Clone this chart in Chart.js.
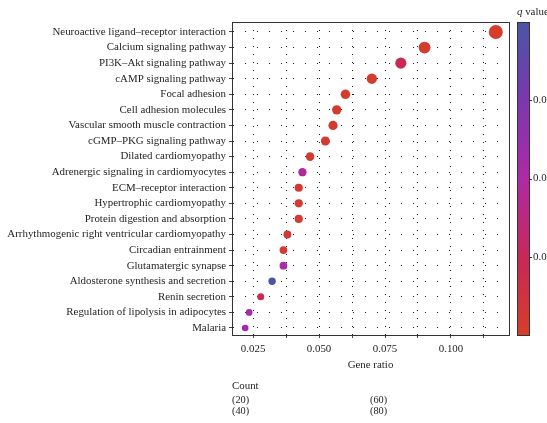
<!DOCTYPE html>
<html>
<head>
<meta charset="utf-8">
<script src="https://cdn.jsdelivr.net/npm/chart.js@4/dist/chart.umd.min.js"></script>
<style>
html,body{margin:0;padding:0;background:#fff;}
#c{display:block;}
</style>
</head>
<body>
<canvas id="c" width="547" height="423"></canvas>
<script>
// ---- data ----
const categories = [
  "Neuroactive ligand\u2013receptor interaction",
  "Calcium signaling pathway",
  "PI3K\u2013Akt signaling pathway",
  "cAMP signaling pathway",
  "Focal adhesion",
  "Cell adhesion molecules",
  "Vascular smooth muscle contraction",
  "cGMP\u2013PKG signaling pathway",
  "Dilated cardiomyopathy",
  "Adrenergic signaling in cardiomyocytes",
  "ECM\u2013receptor interaction",
  "Hypertrophic cardiomyopathy",
  "Protein digestion and absorption",
  "Arrhythmogenic right ventricular cardiomyopathy",
  "Circadian entrainment",
  "Glutamatergic synapse",
  "Aldosterone synthesis and secretion",
  "Renin secretion",
  "Regulation of lipolysis in adipocytes",
  "Malaria"
];
const geneRatio = [0.117, 0.090, 0.081, 0.070, 0.060, 0.0567, 0.0553, 0.0524, 0.0466, 0.0437,
                   0.0423, 0.0423, 0.0423, 0.038, 0.0365, 0.0365, 0.0322, 0.0279, 0.0235, 0.022];
const counts = [80, 61, 55, 48, 41, 39, 38, 36, 32, 30, 29, 29, 29, 26, 25, 25, 22, 19, 16, 15];
const qValues = [0.0005, 0.001, 0.009, 0.001, 0.001, 0.0015, 0.0015, 0.002, 0.002, 0.019,
                 0.002, 0.002, 0.002, 0.003, 0.002, 0.021, 0.040, 0.008, 0.022, 0.022];
const xTickValues = [0.025, 0.0375, 0.050, 0.0625, 0.075, 0.0875, 0.100, 0.1125];
const qTicks = [0.01, 0.02, 0.03];
const qRange = [0, 0.04];
const countLegend = [20, 40, 60, 80];

// ---- styles ----
const SERIF = '"Liberation Serif", "DejaVu Serif", serif';
const TXT = '#1e1e1e';
const FS = 10.9;
const colorStops = [
  [0.00, [214, 62, 40]],
  [0.25, [198, 40, 88]],
  [0.50, [174, 42, 166]],
  [0.75, [124, 54, 176]],
  [1.00, [72, 86, 166]]
];
function qColor(q) {
  let t = (q - qRange[0]) / (qRange[1] - qRange[0]);
  t = Math.max(0, Math.min(1, t));
  for (let i = 0; i < colorStops.length - 1; i++) {
    const [t0, c0] = colorStops[i], [t1, c1] = colorStops[i + 1];
    if (t <= t1) {
      const f = (t - t0) / (t1 - t0);
      const c = c0.map((v, k) => Math.round(v + (c1[k] - v) * f));
      return `rgb(${c[0]},${c[1]},${c[2]})`;
    }
  }
  const c = colorStops[colorStops.length - 1][1];
  return `rgb(${c[0]},${c[1]},${c[2]})`;
}
const cMin = Math.min(...counts), cMax = Math.max(...counts);
function radiusFor(n) { return 3.3 + (n - cMin) / (cMax - cMin) * 3.7; }

const extras = {
  id: 'extras',
  afterDraw(chart) {
    const {ctx, chartArea: a} = chart;
    ctx.save();
    // panel box
    ctx.strokeStyle = '#333';
    ctx.lineWidth = 1;
    ctx.strokeRect(Math.round(a.left) + 0.5, Math.round(a.top) + 0.5,
                   Math.round(a.right - a.left), Math.round(a.bottom - a.top));
    // colorbar
    const bx = 517, bw = 12, top = a.top, bot = a.bottom;
    const g = ctx.createLinearGradient(0, bot, 0, top);
    colorStops.forEach(([t, c]) => g.addColorStop(t, `rgb(${c[0]},${c[1]},${c[2]})`));
    ctx.fillStyle = g;
    ctx.fillRect(bx, top, bw, bot - top);
    ctx.strokeStyle = '#333';
    ctx.strokeRect(bx + 0.5, Math.round(top) + 0.5, bw, Math.round(bot - top));
    ctx.font = FS + 'px ' + SERIF;
    ctx.fillStyle = TXT;
    ctx.textBaseline = 'middle';
    ctx.textAlign = 'left';
    qTicks.forEach(q => {
      const y = bot - (q - qRange[0]) / (qRange[1] - qRange[0]) * (bot - top);
      ctx.beginPath();
      ctx.moveTo(bx + bw, Math.round(y) + 0.5);
      ctx.lineTo(bx + bw + 3, Math.round(y) + 0.5);
      ctx.stroke();
      ctx.fillText(q.toFixed(2), bx + bw + 4, y);
    });
    // q value title
    ctx.font = 'italic ' + FS + 'px ' + SERIF;
    ctx.fillText('q', 517, 12);
    const qw = ctx.measureText('q').width;
    ctx.font = FS + 'px ' + SERIF;
    ctx.fillText(' value', 517 + qw, 12);
    // count legend
    ctx.fillText('Count', 232, 386);
    ctx.font = '10.3px ' + SERIF;
    const pos = [[232, 400], [232, 411], [370, 400], [370, 411]];
    countLegend.forEach((n, i) => ctx.fillText('(' + n + ')', pos[i][0], pos[i][1]));
    ctx.restore();
  }
};

new Chart(document.getElementById('c'), {
  type: 'scatter',
  data: {
    datasets: [{
      data: categories.map((c, i) => ({x: geneRatio[i], y: i})),
      pointRadius: c => radiusFor(counts[c.dataIndex]),
      pointHoverRadius: c => radiusFor(counts[c.dataIndex]),
      backgroundColor: c => qColor(qValues[c.dataIndex]),
      borderWidth: 0
    }]
  },
  options: {
    responsive: false,
    animation: false,
    events: [],
    layout: {padding: {left: 0, right: 38, top: 22, bottom: 0}},
    plugins: {legend: {display: false}, tooltip: {enabled: false}},
    scales: {
      x: {
        type: 'linear', min: 0.017, max: 0.122,
        afterBuildTicks: s => { s.ticks = xTickValues.map(v => ({value: v})); },
        afterFit: s => { s.height = 88; },
        ticks: {
          autoSkip: false, maxRotation: 0, padding: 5,
          font: {family: SERIF, size: FS}, color: TXT,
          callback: v => Math.abs(v / 0.025 - Math.round(v / 0.025)) < 1e-6 ? v.toFixed(3) : ''
        },
        grid: {color: 'rgba(0,0,0,0.9)', lineWidth: 1, drawTicks: true, tickLength: 3, tickColor: '#444'},
        border: {display: true, color: '#333', width: 1, dash: [1, 7]},
        title: {display: true, text: 'Gene ratio', font: {family: SERIF, size: FS}, color: TXT,
                padding: {top: 0, bottom: 51}}
      },
      y: {
        type: 'linear', reverse: true, min: -0.64, max: 19.45,
        afterBuildTicks: s => { s.ticks = categories.map((c, i) => ({value: i})); },
        afterFit: s => { s.width = 232; },
        ticks: {
          autoSkip: false, padding: 3,
          font: {family: SERIF, size: FS}, color: TXT,
          callback: v => categories[v]
        },
        grid: {color: 'rgba(0,0,0,0.9)', lineWidth: 1, drawTicks: true, tickLength: 3, tickColor: '#444'},
        border: {display: true, color: '#333', width: 1, dash: [1, 11]}
      }
    }
  },
  plugins: [extras]
});
</script>
</body>
</html>
